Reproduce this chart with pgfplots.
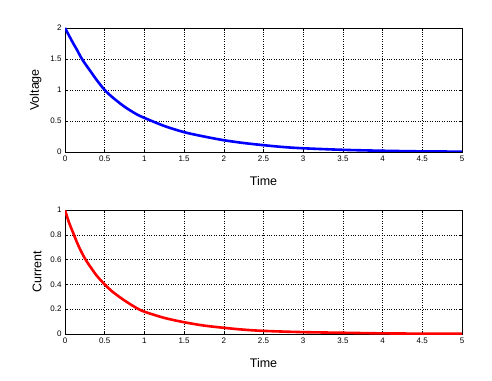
\documentclass[border=0pt]{standalone}
\usepackage{pgfplots}
\pgfplotsset{compat=1.18}
\usepackage{fontspec}
\setmainfont{Liberation Sans}
\begin{document}
\begin{tikzpicture}
\path[fill=white] (0pt,0pt) rectangle (492pt,380pt);
\pgfplotsset{
  myax/.style={
    anchor=south west, scale only axis, width=397pt, height=124pt,
    xmin=0, xmax=5, xtick={0,0.5,...,5},
    xticklabels={0,0.5,1,1.5,2,2.5,3,3.5,4,4.5,5},
    grid=major, major grid style={black, dotted, line width=0.6pt},
    tick align=inside, major tick length=3pt,
    axis line style={black, line width=0.6pt},
    tick style={black, line width=0.6pt},
    ticklabel style={font=\fontsize{8}{9}\selectfont},
    label style={font=\fontsize{12.5}{14}\selectfont},
    /pgf/number format/assume math mode=true,
    xlabel={Time},
    xlabel style={yshift=-8pt},
    ylabel style={yshift=2pt},
    clip=true,
  }
}
\begin{axis}[myax, at={(65pt,228pt)}, ymin=0, ymax=2, ytick={0,0.5,1,1.5,2},
  yticklabels={0,0.5,1,1.5,2}, ylabel={Voltage}]
\addplot[blue, line width=2.6pt, smooth] coordinates {
(0,2.0) (0.05,1.88) (0.1,1.76) (0.15,1.65) (0.2,1.53) (0.25,1.43) (0.3,1.34) (0.4,1.16)
(0.5,1.0) (0.6,0.88) (0.75,0.73) (0.9,0.61) (1,0.55) (1.25,0.42)
(1.5,0.32) (1.75,0.25) (2,0.19) (2.25,0.145) (2.5,0.11) (2.75,0.08) (3,0.06) (3.5,0.035) (4,0.02) (4.5,0.01) (5,0.006)};
\end{axis}
\begin{axis}[myax, at={(65pt,46pt)}, ymin=0, ymax=1, ytick={0,0.2,0.4,0.6,0.8,1},
  yticklabels={0,0.2,0.4,0.6,0.8,1}, ylabel={Current}]
\addplot[red, line width=2.6pt, smooth] coordinates {
(0,1.0) (0.05,0.9) (0.1,0.82) (0.15,0.74) (0.2,0.67) (0.25,0.61) (0.3,0.56) (0.4,0.47)
(0.5,0.40) (0.6,0.34) (0.75,0.27) (0.9,0.21) (1,0.18) (1.25,0.13)
(1.5,0.095) (1.75,0.068) (2,0.05) (2.25,0.035) (2.5,0.025) (3,0.015) (3.5,0.01) (4,0.005) (4.5,0.003) (5,0.002)};
\end{axis}
\end{tikzpicture}
\end{document}
